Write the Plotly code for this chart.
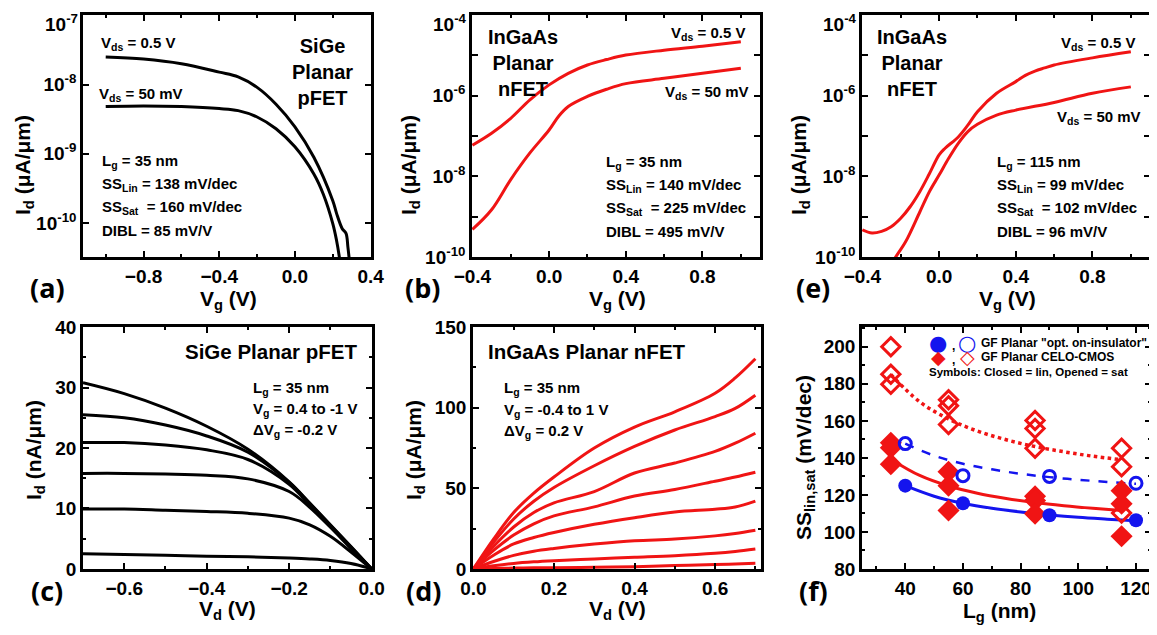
import plotly.graph_objects as go

# reference canvas size, and the 8px page margin the browser adds around the figure
W, H = 1157, 635
OFF = 8
FW, FH = W - OFF, H - OFF
BASE = "Liberation Sans, Arial, sans-serif"
RED = "#f01414"
BLUE = "#1414ee"

# ---------------- (a) SiGe planar pFET, Id-Vg ----------------
a_vg_hi = [-1.0, -0.8, -0.6, -0.4, -0.3, -0.2, -0.1, 0.0, 0.1, 0.2, 0.22, 0.25, 0.27, 0.28, 0.29]
a_id_hi = [2.5e-8, 2.34e-8, 2.0e-8, 1.51e-8, 1.29e-8, 9.1e-9, 5.2e-9, 2.45e-9, 8.9e-10,
           2.1e-10, 1.38e-10, 8.3e-11, 7.1e-11, 4.5e-11, 2.5e-11]
a_vg_lo = [-1.0, -0.8, -0.6, -0.4, -0.3, -0.2, -0.1, 0.0, 0.1, 0.15, 0.2, 0.22, 0.235, 0.245]
a_id_lo = [4.8e-9, 4.9e-9, 4.8e-9, 4.5e-9, 4.2e-9, 3.4e-9, 2.3e-9, 1.26e-9, 5.1e-10,
           2.6e-10, 9.8e-11, 5.6e-11, 3.2e-11, 2.0e-11]

# ---------------- (b) InGaAs planar nFET, Lg = 35 nm ----------------
b_vg_hi = [-0.4, -0.3, -0.2, -0.1, 0.0, 0.1, 0.2, 0.3, 0.4, 0.6, 0.8, 1.0]
b_id_hi = [5.9e-8, 1.17e-7, 2.75e-7, 7.9e-7, 1.86e-6, 3.6e-6, 5.8e-6, 7.9e-6, 1.02e-5,
           1.35e-5, 1.7e-5, 2.2e-5]
b_vg_lo = [-0.4, -0.3, -0.2, -0.1, 0.0, 0.05, 0.1, 0.2, 0.3, 0.4, 0.6, 0.8, 1.0]
b_id_lo = [4.8e-10, 1.48e-9, 8.3e-9, 3.8e-8, 1.41e-7, 3.1e-7, 5.4e-7, 9.6e-7, 1.45e-6,
           2.0e-6, 2.7e-6, 3.6e-6, 4.8e-6]

# ---------------- (e) InGaAs planar nFET, Lg = 115 nm ----------------
e_vg_hi = [-0.4, -0.35, -0.3, -0.25, -0.2, -0.15, -0.1, -0.05, 0.0, 0.03, 0.1, 0.15, 0.2,
           0.3, 0.4, 0.45, 0.5, 0.55, 0.6, 0.8, 1.0]
e_id_hi = [4.7e-10, 3.9e-10, 4.3e-10, 5.6e-10, 9.1e-10, 1.78e-9, 4.2e-9, 1.17e-8, 3.4e-8,
           4.9e-8, 9.5e-8, 1.86e-7, 4.0e-7, 1.15e-6, 2.24e-6, 3.2e-6, 4.1e-6, 4.9e-6,
           5.8e-6, 8.7e-6, 1.23e-5]
e_vg_lo = [-0.25, -0.226, -0.174, -0.1, -0.05, 0.0, 0.05, 0.1, 0.15, 0.2, 0.3, 0.4, 0.6, 0.8, 1.0]
e_id_lo = [6.6e-11, 1.0e-10, 2.4e-10, 1.32e-9, 4.2e-9, 1.07e-8, 2.8e-8, 6.6e-8, 1.29e-7,
           1.95e-7, 3.3e-7, 4.4e-7, 6.8e-7, 1.15e-6, 1.66e-6]

# ---------------- (c) SiGe pFET output, nA/um ----------------
c_vd = [-0.7, -0.6, -0.5, -0.4, -0.3, -0.2, -0.15, -0.1, -0.05, 0.0]
c_id = [
    [30.8, 29.0, 26.6, 23.6, 19.8, 14.4, 10.9, 7.3, 3.7, 0],
    [25.5, 25.0, 23.8, 22.0, 19.3, 14.3, 10.8, 7.2, 3.6, 0],
    [20.9, 20.9, 20.5, 19.7, 18.1, 14.0, 10.6, 7.1, 3.5, 0],
    [15.8, 15.8, 15.7, 15.5, 14.9, 12.8, 10.2, 6.9, 3.4, 0],
    [9.9, 9.9, 9.7, 9.5, 9.2, 8.4, 7.3, 5.4, 2.8, 0],
    [2.5, 2.4, 2.25, 2.1, 2.0, 1.8, 1.65, 1.4, 0.9, 0],
]

# ---------------- (d) InGaAs nFET output, uA/um ----------------
d_vd = [0.0, 0.05, 0.1, 0.15, 0.2, 0.3, 0.4, 0.5, 0.6, 0.65, 0.7]
d_id = [
    [0, 18.5, 35.0, 47.0, 57.0, 75.0, 88.0, 97.5, 109.0, 118.5, 130.4],
    [0, 16.5, 31.0, 42.0, 50.5, 64.0, 76.0, 86.2, 94.5, 99.6, 107.8],
    [0, 14.0, 26.0, 35.0, 41.0, 48.0, 59.5, 65.7, 72.9, 78.0, 84.2],
    [0, 11.5, 21.0, 28.0, 32.9, 38.5, 45.2, 49.3, 54.4, 57.0, 60.0],
    [0, 8.5, 15.5, 19.5, 22.6, 27.7, 31.8, 35.3, 37.0, 38.4, 42.1],
    [0, 4.6, 8.4, 11.0, 12.7, 15.4, 17.5, 18.5, 20.5, 22.0, 24.0],
    [0, 1.9, 3.4, 4.4, 5.1, 6.2, 7.2, 8.2, 9.7, 10.8, 12.3],
    [0, 0.3, 0.5, 0.7, 0.8, 1.0, 1.4, 2.1, 2.7, 3.1, 3.5],
]

# ---------------- (f) SS vs Lg ----------------
f_blue_lg = [40, 60, 90, 120]
f_blue_lin = [125, 115.5, 109, 106.3]
f_blue_sat = [147.7, 130.4, 130, 126.3]
f_red_lg = [35, 35, 35, 55, 55, 55, 85, 85, 85, 115, 115, 115]
f_red_lin = [148.2, 145.5, 136.6, 132.5, 125, 111.6, 119.3, 117, 109.8, 122.3, 115.2, 97.7]
f_red_sat = [200, 185.2, 179.8, 171.4, 168.2, 158, 160.2, 155.9, 145.2, 145.2, 135.2, 110.2]
fit_blue_lg = [40, 50, 60, 70, 80, 90, 100, 110, 120]
fit_blue_lin = [125, 119.3, 115.5, 112.8, 110.8, 109.2, 107.9, 106.9, 106]
fit_blue_sat = [147.7, 141.2, 136.8, 133.8, 131.4, 129.6, 128.2, 127, 126]
fit_red_lg = [35, 45, 55, 65, 75, 85, 95, 105, 115]
fit_red_lin = [139.3, 130.5, 124.8, 120.9, 118.1, 115.9, 114.2, 112.8, 111.6]
fit_red_sat = [185, 170.3, 161, 154.5, 149.8, 146.1, 143.3, 140.9, 139]

# log tick labels (the topmost one is drawn as a note so it stays inside the page)
log_ticks_a = [1e-10, 1e-9, 1e-8, 1e-7]
log_text_a = ["10<sup>-10</sup>", "10<sup>-9</sup>", "10<sup>-8</sup>", ""]
top_text_a = "10<sup>-7</sup>"
log_ticks_b = [1e-10, 1e-9, 1e-8, 1e-7, 1e-6, 1e-5, 1e-4]
log_text_b = ["10<sup>-10</sup>", "", "10<sup>-8</sup>", "", "10<sup>-6</sup>", "", ""]
top_text_b = "10<sup>-4</sup>"


def PX(x):
    return (x - OFF) / FW


def PY(y):
    return 1 - (y - OFF) / FH


def dom_x(l, r):
    return [PX(l), PX(r)]


def dom_y(t, b):
    return [PY(b), PY(t)]


fig = go.Figure()

LW = 3


def line(x, y, ax, color, width=LW, dash="solid", smooth=1.0):
    fig.add_trace(go.Scatter(x=x, y=y, xaxis="x" + ax, yaxis="y" + ax, mode="lines",
                             line=dict(color=color, width=width, dash=dash, shape="spline",
                                       smoothing=smooth),
                             showlegend=False, hoverinfo="skip"))


# (a)
line(a_vg_hi, a_id_hi, "", "black")
line(a_vg_lo, a_id_lo, "", "black")
# (b)
line(b_vg_hi, b_id_hi, "2", RED)
line(b_vg_lo, b_id_lo, "2", RED)
# (e)
line(e_vg_hi, e_id_hi, "3", RED)
line(e_vg_lo, e_id_lo, "3", RED)
# (c)
for cv in c_id:
    line(c_vd, cv, "4", "black")
# (d)
for dv in d_id:
    line(d_vd, dv, "5", RED)
# (f) fits
line(fit_red_lg, fit_red_sat, "6", RED, width=3.5, dash="dot")
line(fit_blue_lg, fit_blue_sat, "6", BLUE, width=2.5, dash="dash")
line(fit_red_lg, fit_red_lin, "6", RED, width=3)
line(fit_blue_lg, fit_blue_lin, "6", BLUE, width=3)


def pts(x, y, symbol, color, size, lw=0):
    fig.add_trace(go.Scatter(x=x, y=y, xaxis="x6", yaxis="y6", mode="markers",
                             marker=dict(symbol=symbol, color=color, size=size,
                                         line=dict(color=color, width=lw)),
                             showlegend=False, hoverinfo="skip", cliponaxis=False))


pts(f_red_lg, f_red_sat, "diamond-open", RED, 14, 3)
pts(f_red_lg, f_red_lin, "diamond", RED, 17)
pts(f_blue_lg, f_blue_sat, "circle-open", BLUE, 12, 3)
pts(f_blue_lg, f_blue_lin, "circle", BLUE, 14)

tickfont = dict(family=BASE, size=19, color="black", weight="bold")


def axis(dom, rng, **kw):
    d = dict(domain=dom, range=rng, showline=True, linecolor="black", linewidth=2.5,
             mirror="allticks", ticks="inside", ticklen=6, tickwidth=2, tickcolor="black",
             showgrid=False, zeroline=False, tickfont=tickfont, fixedrange=True,
             automargin=False, ticklabeloverflow="allow")
    d.update(kw)
    return d


def minor(dt):
    return dict(dtick=dt, ticks="inside", ticklen=3.5, tickwidth=1.5, tickcolor="black")


xa, xb, xe = dom_x(83, 371), dom_x(472, 760), dom_x(862, 1150)
xc, xd, xf = dom_x(83, 372), dom_x(473, 761), dom_x(862, 1151)
ytop, ybot = dom_y(15, 257), dom_y(327, 569)

layout = dict(
    width=FW, height=FH, margin=dict(l=0, r=0, t=0, b=0, pad=0), autosize=False,
    paper_bgcolor="white", plot_bgcolor="white", showlegend=False,
    font=dict(family=BASE, color="black", weight="bold"),
    xaxis=axis(xa, [-1.12, 0.402], anchor="y", tick0=0, dtick=0.4, tickformat=".1f", minor=minor(0.2)),
    yaxis=axis(ytop, [-10.49, -6.996], anchor="x", type="log", tickvals=log_ticks_a, ticktext=log_text_a),
    xaxis2=axis(xb, [-0.402, 1.1], anchor="y2", tick0=0, dtick=0.4, tickformat=".1f", minor=minor(0.2)),
    yaxis2=axis(ytop, [-10.003, -3.996], anchor="x2", type="log", tickvals=log_ticks_b, ticktext=log_text_b),
    xaxis3=axis(xe, [-0.402, 1.1], anchor="y3", tick0=0, dtick=0.4, tickformat=".1f", minor=minor(0.2)),
    yaxis3=axis(ytop, [-10.003, -3.996], anchor="x3", type="log", tickvals=log_ticks_b, ticktext=log_text_b),
    xaxis4=axis(xc, [-0.7, 0.001], anchor="y4", tick0=0, dtick=0.2, tickformat=".1f", minor=minor(0.1)),
    yaxis4=axis(ybot, [-0.02, 40.03], anchor="x4", tick0=0, dtick=10, minor=minor(5)),
    xaxis5=axis(xd, [-0.001, 0.714], anchor="y5", tick0=0, dtick=0.2, tickformat=".1f", minor=minor(0.1)),
    yaxis5=axis(ybot, [-0.05, 150.1], anchor="x5", tick0=0, dtick=50, minor=minor(25)),
    xaxis6=axis(xf, [25, 125.2], anchor="y6", tick0=0, dtick=20, minor=minor(10)),
    yaxis6=axis(ybot, [79.97, 210.7], anchor="x6", tick0=0, dtick=20, minor=minor(10)),
)
fig.update_layout(**layout)

anns = []


def ann(text, x, y, size=15, xanchor="left", yanchor="middle", angle=0, family=BASE, color="black"):
    anns.append(dict(text=text, x=PX(x), y=PY(y), xref="paper", yref="paper",
                     xanchor=xanchor, yanchor=yanchor, textangle=angle, showarrow=False,
                     font=dict(family=family, size=size, color=color, weight="bold")))


# topmost log tick labels
ann(top_text_a, 80, 23, size=19, xanchor="right")
ann(top_text_b, 469, 23, size=19, xanchor="right")
ann(top_text_b, 859, 23, size=19, xanchor="right")

# panel letters
LET = "Open Sans, sans-serif"
for t, x, y in [("(a)", 47, 287), ("(b)", 422, 287), ("(e)", 813, 287),
                ("(c)", 47, 590), ("(d)", 423, 590), ("(f)", 813, 590)]:
    ann(t, x, y, size=27, xanchor="center", family=LET)

# axis titles
for t, x, y in [("V<sub>g</sub> (V)", 228, 300), ("V<sub>g</sub> (V)", 617, 300),
                ("V<sub>g</sub> (V)", 1007, 300), ("V<sub>d</sub> (V)", 227, 610),
                ("V<sub>d</sub> (V)", 617, 610), ("L<sub>g</sub> (nm)", 999, 612)]:
    ann(t, x, y, size=21, xanchor="center")
for t, x, y in [("I<sub>d</sub> (μA/μm)", 24, 165), ("I<sub>d</sub> (μA/μm)", 410, 165),
                ("I<sub>d</sub> (μA/μm)", 800, 165), ("I<sub>d</sub> (nA/μm)", 35, 450),
                ("I<sub>d</sub> (μA/μm)", 415, 450), ("SS<sub>lin,sat</sub> (mV/dec)", 805, 457)]:
    ann(t, x, y, size=21, xanchor="center", angle=-90)

# (a) texts
ann("V<sub>ds</sub> = 0.5 V", 99, 44)
ann("V<sub>ds</sub> = 50 mV", 97, 94)
ann("SiGe<br>Planar<br>pFET", 290, 72, size=20)
for i, t in enumerate(["L<sub>g</sub> = 35 nm", "SS<sub>Lin</sub> = 138 mV/dec",
                       "SS<sub>Sat</sub>  = 160 mV/dec", "DIBL = 85 mV/V"]):
    ann(t, 100, 161 + 23.3 * i)

# (b) texts
ann("InGaAs<br>Planar<br>nFET", 486, 63, size=20)
ann("V<sub>ds</sub> = 0.5 V", 669, 34)
ann("V<sub>ds</sub> = 50 mV", 663, 92)
for i, t in enumerate(["L<sub>g</sub> = 35 nm", "SS<sub>Lin</sub> = 140 mV/dec",
                       "SS<sub>Sat</sub>  = 225 mV/dec", "DIBL = 495 mV/V"]):
    ann(t, 604, 162 + 23.3 * i)

# (e) texts
ann("InGaAs<br>Planar<br>nFET", 875, 63, size=20)
ann("V<sub>ds</sub> = 0.5 V", 1059, 44)
ann("V<sub>ds</sub> = 50 mV", 1055, 117)
for i, t in enumerate(["L<sub>g</sub> = 115 nm", "SS<sub>Lin</sub> = 99 mV/dec",
                       "SS<sub>Sat</sub>  = 102 mV/dec", "DIBL = 96 mV/V"]):
    ann(t, 995, 162 + 23.3 * i)

# (c) texts
ann("SiGe Planar pFET", 183, 351, size=20.5)
for i, t in enumerate(["L<sub>g</sub> = 35 nm", "V<sub>g</sub> = 0.4 to -1 V",
                       "ΔV<sub>g</sub> = -0.2 V"]):
    ann(t, 251, 389 + 20.5 * i)

# (d) texts
ann("InGaAs Planar nFET", 486, 351, size=20.5)
for i, t in enumerate(["L<sub>g</sub> = 35 nm", "V<sub>g</sub> = -0.4 to 1 V",
                       "ΔV<sub>g</sub> = 0.2 V"]):
    ann(t, 502, 389 + 21 * i)

# (f) legend (glyphs as text)
SYM = "DejaVu Sans"
ann("●", 938, 343, size=21, xanchor="center", family=SYM, color=BLUE)
ann(",", 953, 346, size=12, xanchor="center")
ann("○", 967, 343, size=21, xanchor="center", family=SYM, color=BLUE)
ann("◆", 938, 357, size=19, xanchor="center", family=SYM, color=RED)
ann(",", 953, 360, size=12, xanchor="center")
ann("◇", 967, 357, size=19, xanchor="center", family=SYM, color=RED)
ann('GF Planar "opt. on-insulator"', 979, 343, size=12)
ann("GF Planar CELO-CMOS", 979, 357, size=12)
ann("Symbols: Closed = lin, Opened = sat", 927, 372, size=11.5)

fig.update_layout(annotations=anns)
fig.write_html("out.html")
